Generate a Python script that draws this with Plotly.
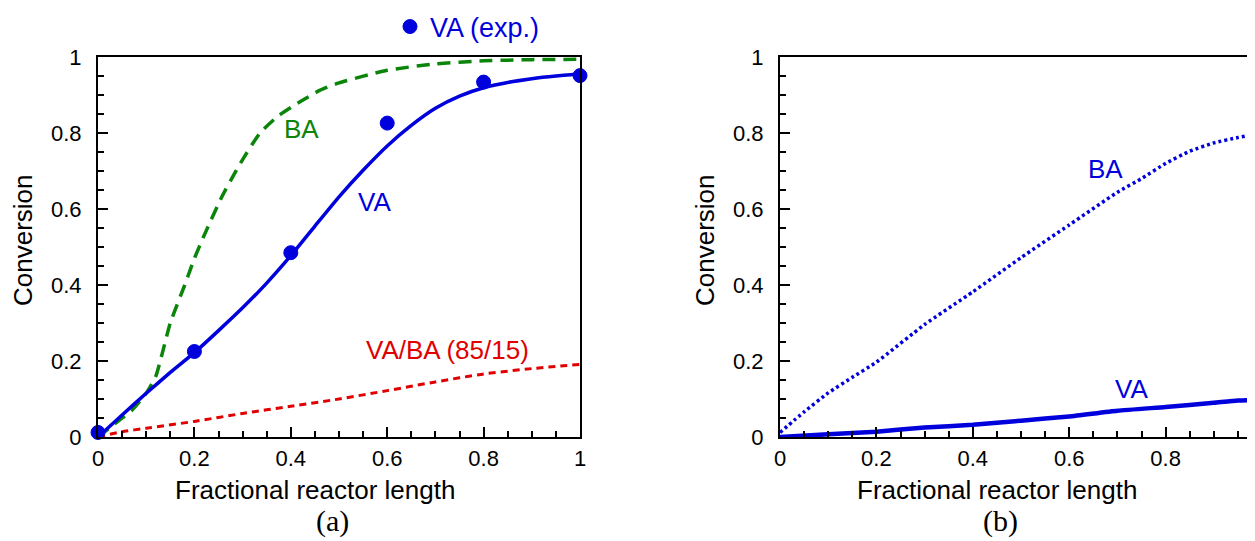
import plotly.graph_objects as go

# ---------------- data: panel (a) ----------------
exp_x = [0, 0.2, 0.4, 0.6, 0.8, 1.0]
exp_va = [0.012, 0.225, 0.485, 0.826, 0.934, 0.951]

va_x = [0, 0.05, 0.1, 0.15, 0.2, 0.25, 0.3, 0.35, 0.4, 0.45, 0.5, 0.55, 0.6, 0.65, 0.7, 0.75, 0.8, 0.85, 0.9, 0.95, 1.0]
va_y = [0.0, 0.058, 0.115, 0.17, 0.222, 0.28, 0.34, 0.405, 0.477, 0.555, 0.632, 0.702, 0.766, 0.82, 0.865, 0.897, 0.919, 0.933, 0.943, 0.95, 0.955]

ba_x = [0, 0.04, 0.07, 0.1, 0.12, 0.15, 0.18, 0.2, 0.22, 0.258, 0.284, 0.3, 0.336, 0.374, 0.42, 0.46, 0.5, 0.6, 0.7, 0.8, 0.9, 1.0]
ba_y = [0.0, 0.04, 0.07, 0.115, 0.16, 0.30, 0.40, 0.47, 0.53, 0.635, 0.695, 0.73, 0.80, 0.845, 0.883, 0.912, 0.932, 0.965, 0.982, 0.99, 0.993, 0.994]

mix_x = [0, 0.05, 0.1, 0.2, 0.3, 0.4, 0.5, 0.6, 0.7, 0.8, 0.9, 1.0]
mix_y = [0.0, 0.014, 0.023, 0.041, 0.062, 0.081, 0.1, 0.122, 0.145, 0.166, 0.18, 0.191]

# ---------------- data: panel (b) ----------------
b_ba_x = [0, 0.05, 0.1, 0.15, 0.2, 0.3, 0.4, 0.5, 0.6, 0.7, 0.75, 0.8, 0.85, 0.9, 0.95, 1.0]
b_ba_y = [0.012, 0.066, 0.116, 0.157, 0.197, 0.296, 0.382, 0.472, 0.558, 0.644, 0.68, 0.72, 0.752, 0.774, 0.788, 0.80]

b_va_x = [0, 0.1, 0.2, 0.3, 0.4, 0.5, 0.6, 0.7, 0.8, 0.9, 0.95, 1.0]
b_va_y = [0.0, 0.007, 0.014, 0.025, 0.032, 0.043, 0.054, 0.069, 0.079, 0.09, 0.096, 0.098]

tick_vals = [0, 0.2, 0.4, 0.6, 0.8, 1]
tick_text = ["0", "0.2", "0.4", "0.6", "0.8", "1"]

BLUE = "#0000dd"
GREEN = "#0a850a"
RED = "#e00000"
FONT = "Liberation Sans, Arial, sans-serif"
SERIF = "Liberation Serif, Times New Roman, serif"

# the page body has an 8px margin, so the figure is drawn 8px in from the window corner
OFF = 8
W, H = 1255 - OFF, 541 - OFF
T = 57 - OFF           # plot top (window px 57)
B = H - (437 - OFF)    # plot bottom at window px 437
PH = H - T - B


def px(wx):
    """window x pixel -> paper x"""
    return (wx - OFF) / W


def py(wy):
    """window y pixel -> paper y"""
    return (H - B - (wy - OFF)) / PH


fig = go.Figure()

# panel (a)
fig.add_trace(go.Scatter(x=ba_x, y=ba_y, mode="lines", line=dict(color=GREEN, width=3.5, dash="13px,8px", shape="spline", smoothing=0.5),
                         showlegend=False, xaxis="x", yaxis="y"))
fig.add_trace(go.Scatter(x=mix_x, y=mix_y, mode="lines", line=dict(color=RED, width=3, dash="7px,5px", shape="spline", smoothing=0.5),
                         showlegend=False, xaxis="x", yaxis="y"))
fig.add_trace(go.Scatter(x=va_x, y=va_y, mode="lines", line=dict(color=BLUE, width=3.5, shape="spline", smoothing=0.5),
                         showlegend=False, xaxis="x", yaxis="y"))
fig.add_trace(go.Scatter(x=exp_x, y=exp_va, mode="markers", name="VA (exp.)",
                         marker=dict(color=BLUE, size=14, line=dict(color=BLUE, width=1)),
                         cliponaxis=False, showlegend=True, xaxis="x", yaxis="y"))

# panel (b)
fig.add_trace(go.Scatter(x=b_ba_x, y=b_ba_y, mode="lines", line=dict(color=BLUE, width=3.5, dash="3px,3px", shape="spline", smoothing=0.5),
                         showlegend=False, xaxis="x2", yaxis="y2"))
fig.add_trace(go.Scatter(x=b_va_x, y=b_va_y, mode="lines", line=dict(color=BLUE, width=4.5, shape="spline", smoothing=0.5),
                         showlegend=False, xaxis="x2", yaxis="y2"))

axis_common = dict(
    showgrid=False, zeroline=False, showline=True, linecolor="black", linewidth=2,
    ticks="inside", ticklen=10, tickwidth=2, tickcolor="black",
    tickvals=tick_vals, ticktext=tick_text, automargin=False,
    tickfont=dict(family=FONT, size=22, color="black"),
    minor=dict(ticks="inside", ticklen=6, tickwidth=2, tickcolor="black", dtick=0.05, showgrid=False),
)

fig.update_layout(
    width=W, height=H,
    margin=dict(l=0, r=0, t=T, b=B, autoexpand=False),
    plot_bgcolor="white", paper_bgcolor="white",
    font=dict(family=FONT, size=22, color="black"),
    showlegend=True,
    legend=dict(x=px(390), xanchor="left", y=py(27), yanchor="middle",
                font=dict(family=FONT, size=27, color=BLUE), bgcolor="rgba(0,0,0,0)",
                itemwidth=30),
    xaxis=dict(axis_common, domain=[px(98), px(580)], range=[0, 1], mirror=True, anchor="y",
               ticklabelstandoff=1),
    yaxis=dict(axis_common, domain=[0, 1], range=[0, 1], mirror=True, anchor="x",
               ticklabelstandoff=10),
    xaxis2=dict(axis_common, domain=[px(780), 1.0], range=[0, (1255 - 780) / 482], mirror=True, anchor="y2",
                ticklabelstandoff=1),
    yaxis2=dict(axis_common, domain=[0, 1], range=[0, 1], mirror=False, anchor="x2",
                ticklabelstandoff=10),
)

# axis titles
for xc in (315, 997):
    fig.add_annotation(x=px(xc), y=py(490), xref="paper", yref="paper", text="Fractional reactor length",
                       xanchor="center", yanchor="middle",
                       showarrow=False, font=dict(family=FONT, size=26, color="black"))
for xc in (23, 705):
    fig.add_annotation(x=px(xc), y=py(240), xref="paper", yref="paper", text="Conversion", textangle=-90,
                       xanchor="center", yanchor="middle",
                       showarrow=False, font=dict(family=FONT, size=26, color="black"))

# curve labels
fig.add_annotation(x=0.423, y=0.81, xref="x", yref="y", text="BA", showarrow=False,
                   font=dict(family=FONT, size=26, color=GREEN))
fig.add_annotation(x=0.573, y=0.618, xref="x", yref="y", text="VA", showarrow=False,
                   font=dict(family=FONT, size=26, color=BLUE))
fig.add_annotation(x=0.726, y=0.229, xref="x", yref="y", text="VA/BA (85/15)", showarrow=False,
                   font=dict(family=FONT, size=26, color=RED))
fig.add_annotation(x=0.676, y=0.705, xref="x2", yref="y2", text="BA", showarrow=False,
                   font=dict(family=FONT, size=26, color=BLUE))
fig.add_annotation(x=0.73, y=0.126, xref="x2", yref="y2", text="VA", showarrow=False,
                   font=dict(family=FONT, size=26, color=BLUE))

# panel captions
for xc, lab in ((332, "(a)"), (1000, "(b)")):
    fig.add_annotation(x=px(xc), y=py(521), xref="paper", yref="paper", text=lab, showarrow=False,
                       xanchor="center", yanchor="middle",
                       font=dict(family=SERIF, size=30, color="black"))

fig.write_html("out.html")
